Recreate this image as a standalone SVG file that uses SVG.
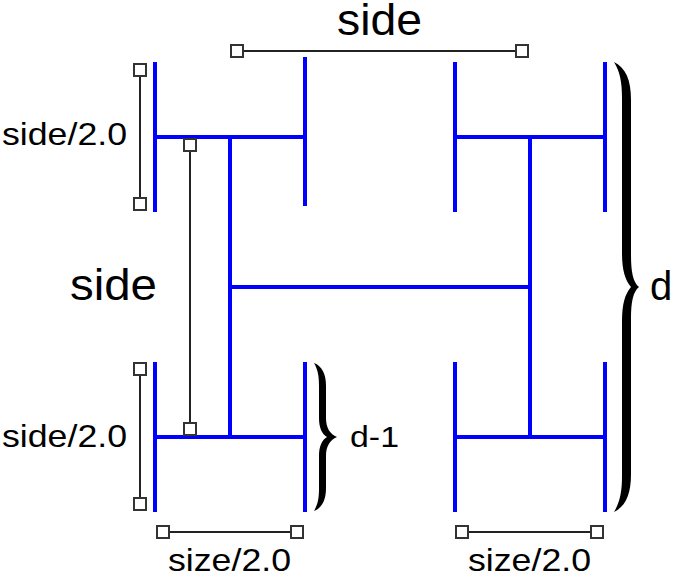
<svg xmlns="http://www.w3.org/2000/svg" width="674" height="575" viewBox="0 0 674 575">
<style>
.h{stroke:#0000ff;stroke-width:4;fill:none;stroke-linecap:butt}
.dim{stroke:#222;stroke-width:2;fill:none}
.hd{fill:#fff;stroke:#333;stroke-width:2}
.t{font-family:"Liberation Sans",Arial,sans-serif;fill:#000}
.br{fill:#000}
</style>
<rect width="674" height="575" fill="#fff"/>
<g id="connectors">
<path class="h" d="M230,137V437M530,137V437M230,287H530"/>
</g>
<g id="h-top-left"><path class="h" d="M155,62V212M305,57V206M155,137H305"/></g>
<g id="h-top-right"><path class="h" d="M455,62V212M605,62V212M455,137H605"/></g>
<g id="h-bottom-left"><path class="h" d="M155,362V512M305,362V512M155,437H305"/></g>
<g id="h-bottom-right"><path class="h" d="M455,362V512M605,362V512M455,437H605"/></g>
<g id="dim-top">
<path class="dim" d="M237,51H522"/>
<rect class="hd" x="231" y="45" width="12" height="12"/><rect class="hd" x="516" y="45" width="12" height="12"/>
<text class="t" x="337" y="35" font-size="44" textLength="85" lengthAdjust="spacingAndGlyphs">side</text>
</g>
<g id="dim-left-top">
<path class="dim" d="M140,70V204"/>
<rect class="hd" x="134" y="64" width="12" height="12"/><rect class="hd" x="134" y="198" width="12" height="12"/>
<text class="t" x="2" y="145" font-size="32" textLength="125" lengthAdjust="spacingAndGlyphs">side/2.0</text>
</g>
<g id="dim-side">
<path class="dim" d="M190,145V429"/>
<rect class="hd" x="184" y="139" width="12" height="12"/><rect class="hd" x="184" y="423" width="12" height="12"/>
<text class="t" x="70" y="300" font-size="44" textLength="87" lengthAdjust="spacingAndGlyphs">side</text>
</g>
<g id="dim-left-bottom">
<path class="dim" d="M140,369V504"/>
<rect class="hd" x="134" y="363" width="12" height="12"/><rect class="hd" x="134" y="498" width="12" height="12"/>
<text class="t" x="2" y="447" font-size="32" textLength="125" lengthAdjust="spacingAndGlyphs">side/2.0</text>
</g>
<g id="dim-bottom-left">
<path class="dim" d="M163,532H297"/>
<rect class="hd" x="157" y="526" width="12" height="12"/><rect class="hd" x="291" y="526" width="12" height="12"/>
<text class="t" x="168" y="571" font-size="32" textLength="123" lengthAdjust="spacingAndGlyphs">size/2.0</text>
</g>
<g id="dim-bottom-right">
<path class="dim" d="M462,532H597"/>
<rect class="hd" x="456" y="526" width="12" height="12"/><rect class="hd" x="591" y="526" width="12" height="12"/>
<text class="t" x="468" y="571" font-size="32" textLength="123" lengthAdjust="spacingAndGlyphs">size/2.0</text>
</g>
<g id="brace-d">
<path class="br" d="M614,62C626,68 631,80 631,100L631,255C631,272 633,282 639,287C633,292 631,302 631,319L631,474C631,494 626,506 614,512C620,502 622,492 622,476L622,321C622,304 625,294 631,287C625,280 622,270 622,253L622,98C622,82 620,72 614,62Z"/>
<text class="t" x="650" y="300" font-size="40">d</text>
</g>
<g id="brace-d1">
<path class="br" d="M314,363C322,366 326,374 326,386L326,418C326,428 330,434 337,437C330,440 326,446 326,456L326,488C326,500 322,508 314,511C318,504 319,498 319,488L319,456C319,446 322,440 327,437C322,434 319,428 319,418L319,386C319,376 318,370 314,363Z"/>
<text class="t" x="350" y="447" font-size="30" textLength="49" lengthAdjust="spacingAndGlyphs">d-1</text>
</g>
</svg>
